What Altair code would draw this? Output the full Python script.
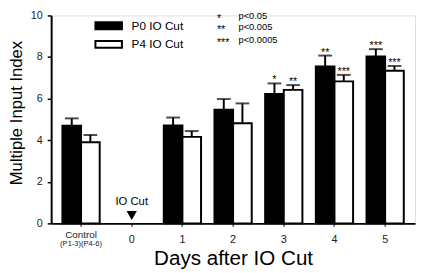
import altair as alt
import pandas as pd

# ---- data ----
x_order = ["Control", "0", "1", "2", "3", "4", "5"]
categories = ["Control", "1", "2", "3", "4", "5"]
series = ["P0 IO Cut", "P4 IO Cut"]
p0_values = [4.70, 4.71, 5.47, 6.22, 7.54, 8.03]
p0_errors = [0.35, 0.38, 0.51, 0.51, 0.53, 0.35]
p4_values = [3.90, 4.16, 4.82, 6.42, 6.83, 7.34]
p4_errors = [0.35, 0.28, 0.95, 0.23, 0.31, 0.23]
p0_stars = ["", "", "", "*", "**", "***"]
p4_stars = ["", "", "", "**", "***", "***"]
sig_marks = ["*", "**", "***"]
sig_labels = ["p<0.05", "p<0.005", "p<0.0005"]
sig_levels = [9.95, 9.43, 8.82]
cut_label = "IO Cut"
cut_day = "0"
cut_text_level = 1.04
cut_marker_level = 0.38
control_sub = "(P1-3)(P4-6)"

rows = []
for c, v, e, s in zip(categories, p0_values, p0_errors, p0_stars):
    rows.append({"cat": c, "series": series[0], "value": v, "top": v + e, "star": s})
for c, v, e, s in zip(categories, p4_values, p4_errors, p4_stars):
    rows.append({"cat": c, "series": series[1], "value": v, "top": v + e, "star": s})
df = pd.DataFrame(rows)

FONT = "Liberation Sans"

xscale = alt.Scale(domain=x_order, paddingInner=0, paddingOuter=0.09)
yscale = alt.Scale(domain=[0, 10])
offscale = alt.Scale(domain=series, paddingInner=0, paddingOuter=0.36)

x_enc = alt.X(
    "cat:N", scale=xscale, sort=x_order,
    axis=alt.Axis(
        title="Days after IO Cut", titleFontSize=21, titleFont=FONT,
        titleFontWeight="normal", titleColor="black", titleBaseline="alphabetic",
        titleY=42,
        labelExpr="datum.value == 'Control' ? '' : datum.value",
        labelFontSize=11, labelColor="#222", labelAngle=0,
        labelBaseline="alphabetic", labelPadding=16,
        tickSize=3, tickColor="black", tickWidth=1,
        domainColor="black", domainWidth=2,
    ),
)
y_enc = alt.Y(
    "value:Q", scale=yscale,
    axis=alt.Axis(
        title="Multiple Input Index", titleFontSize=17, titleFont=FONT,
        titleFontWeight="normal", titleColor="black",
        titleAngle=-90, titleBaseline="middle", titleAlign="center",
        titleX=-35, titleY=99,
        values=[0, 2, 4, 6, 8, 10], labelFontSize=11, labelColor="#222",
        labelPadding=5, tickSize=4, tickColor="black", tickWidth=1.5,
        domainColor="black", domainWidth=2, grid=False,
    ),
)

base = alt.Chart(df)

bars = base.mark_bar(stroke="black", strokeWidth=2).encode(
    x=x_enc,
    xOffset=alt.XOffset("series:N", scale=offscale),
    y=y_enc,
    fill=alt.Fill(
        "series:N",
        scale=alt.Scale(domain=series, range=["black", "white"]),
        legend=alt.Legend(
            title=None, orient="none", legendX=43, legendY=4.5,
            symbolType="M-1,-0.9H6V0.9H-1Z", symbolSize=59.5,
            symbolStrokeColor="black", symbolStrokeWidth=2, symbolOpacity=1,
            labelFontSize=12, labelFont=FONT, labelColor="black",
            labelOffset=27, rowPadding=3, padding=0,
        ),
    ),
)

err_rule = base.mark_rule(color="black", strokeWidth=2).encode(
    x=alt.X("cat:N", scale=xscale, sort=x_order),
    xOffset=alt.XOffset("series:N", scale=offscale),
    y=alt.Y("value:Q", scale=yscale),
    y2="top:Q",
)

err_cap = base.mark_tick(color="black", thickness=2, size=14).encode(
    x=alt.X("cat:N", scale=xscale, sort=x_order),
    xOffset=alt.XOffset("series:N", scale=offscale),
    y=alt.Y("top:Q", scale=yscale),
)

stars = base.mark_text(fontSize=11, font=FONT, baseline="alphabetic", dy=0, color="black").encode(
    x=alt.X("cat:N", scale=xscale, sort=x_order),
    xOffset=alt.XOffset("series:N", scale=offscale),
    y=alt.Y("top:Q", scale=yscale),
    text="star:N",
)

cut_df = pd.DataFrame({"cat": [cut_day], "t": [cut_text_level], "m": [cut_marker_level], "label": [cut_label]})
cut_text = alt.Chart(cut_df).mark_text(fontSize=11.5, font=FONT, baseline="middle", color="black").encode(
    x=alt.X("cat:N", scale=xscale, sort=x_order),
    y=alt.Y("t:Q", scale=yscale),
    text="label:N",
)
cut_marker = alt.Chart(cut_df).mark_point(shape="triangle-down", filled=True, color="black", size=110, opacity=1).encode(
    x=alt.X("cat:N", scale=xscale, sort=x_order),
    y=alt.Y("m:Q", scale=yscale),
)

ctrl_df = pd.DataFrame({"cat": ["Control"], "main": ["Control"], "sub": [control_sub]})
ctrl_main = alt.Chart(ctrl_df).mark_text(fontSize=10, font=FONT, baseline="alphabetic", color="#222").encode(
    x=alt.X("cat:N", scale=xscale, sort=x_order),
    y=alt.value(226.5),
    text="main:N",
)
ctrl_sub = alt.Chart(ctrl_df).mark_text(fontSize=7.7, font=FONT, baseline="alphabetic", color="#222").encode(
    x=alt.X("cat:N", scale=xscale, sort=x_order),
    y=alt.value(235.5),
    text="sub:N",
)

sig_df = pd.DataFrame({"mark": sig_marks, "label": sig_labels, "level": sig_levels})
sig_star = alt.Chart(sig_df).mark_text(fontSize=11, font=FONT, align="left", baseline="middle", dy=3, color="black").encode(
    x=alt.value(169),
    y=alt.Y("level:Q", scale=yscale),
    text="mark:N",
)
sig_text = alt.Chart(sig_df).mark_text(fontSize=9.5, font=FONT, align="left", baseline="middle", color="black").encode(
    x=alt.value(191),
    y=alt.Y("level:Q", scale=yscale),
    text="label:N",
)

chart = alt.layer(
    bars, err_rule, err_cap, stars, cut_text, cut_marker, ctrl_main, ctrl_sub, sig_star, sig_text
).properties(
    width=371, height=212,
    autosize=alt.AutoSizeParams(type="none"),
    padding={"left": 44, "top": 5, "right": 2, "bottom": 48},
).configure_view(stroke=None).configure(font=FONT)

chart.save("out.html", embed_options={"renderer": "svg", "actions": False})
